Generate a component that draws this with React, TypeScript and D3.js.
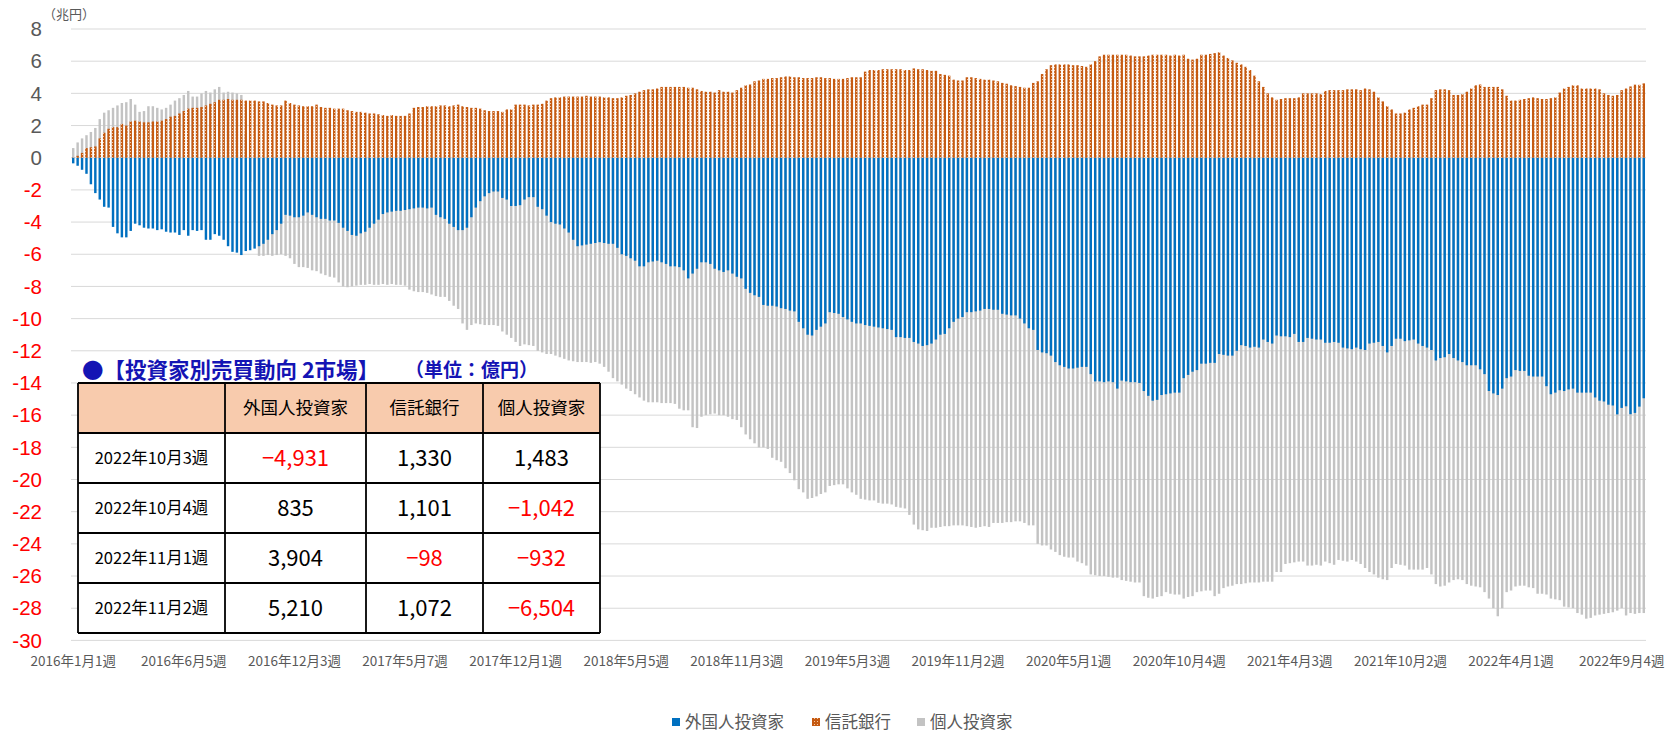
import React from "react";
import * as d3 from "d3";

const tickLabels = ["2016年1月1週","2016年6月5週","2016年12月3週","2017年5月7週","2017年12月1週","2018年5月5週","2018年11月3週","2019年5月3週","2019年11月2週","2020年5月1週","2020年10月4週","2021年4月3週","2021年10月2週","2022年4月1週","2022年9月4週"];
const tickEvery = 25;
const yTicks = [8,6,4,2,0,-2,-4,-6,-8,-10,-12,-14,-16,-18,-20,-22,-24,-26,-28,-30];
const seriesNames = ["外国人投資家","信託銀行","個人投資家"];

const foreign = [
-0.35,-0.5,-0.75,-1.0,-1.65,-2.2,-2.6,-3.05,-3.1,-4.3,
-4.7,-4.95,-4.95,-4.55,-4.1,-4.2,-4.35,-4.4,-4.4,-4.5,
-4.45,-4.6,-4.65,-4.65,-4.8,-4.5,-4.85,-4.5,-4.55,-4.5,
-5.1,-5.1,-4.75,-4.85,-5.1,-5.5,-5.85,-5.9,-6.05,-5.8,
-5.75,-5.65,-5.5,-5.35,-5.1,-4.75,-4.5,-4.1,-3.55,-3.6,
-3.7,-3.7,-3.6,-3.4,-3.55,-3.7,-3.8,-3.8,-3.9,-3.9,
-4.05,-4.35,-4.55,-4.8,-4.85,-4.7,-4.6,-4.35,-4.1,-3.85,
-3.5,-3.4,-3.35,-3.3,-3.3,-3.25,-3.2,-3.15,-3.1,-3.1,
-3.15,-3.1,-3.55,-3.7,-3.8,-4.1,-4.3,-4.5,-4.5,-4.35,
-3.7,-3.1,-2.7,-2.4,-2.2,-2.1,-2.1,-2.5,-2.6,-3.0,
-3.0,-2.95,-2.6,-2.45,-2.45,-3.05,-3.2,-3.6,-4.0,-4.1,
-4.15,-4.4,-4.65,-5.1,-5.5,-5.45,-5.4,-5.35,-5.3,-5.25,
-5.3,-5.35,-5.35,-5.6,-6.0,-6.1,-6.25,-6.4,-6.75,-6.75,
-6.5,-6.45,-6.4,-6.5,-6.6,-6.75,-6.75,-6.8,-7.0,-7.5,
-7.2,-6.9,-6.5,-6.5,-6.6,-6.9,-7.0,-7.1,-7.0,-7.2,
-7.4,-7.5,-8.15,-8.4,-8.55,-8.65,-9.15,-9.2,-9.2,-9.25,
-9.35,-9.4,-9.5,-9.55,-10.2,-10.6,-11.0,-11.05,-10.7,-10.5,
-10.3,-9.6,-9.65,-9.7,-9.9,-10.05,-10.2,-10.3,-10.3,-10.4,
-10.45,-10.5,-10.55,-10.6,-10.65,-10.7,-11.15,-11.15,-11.2,-11.2,
-11.45,-11.55,-11.7,-11.65,-11.55,-11.3,-11.0,-10.95,-10.6,-10.2,
-10.0,-9.9,-9.6,-9.6,-9.55,-9.5,-9.4,-9.4,-9.45,-9.45,
-9.7,-9.75,-9.8,-9.8,-10.0,-10.3,-10.6,-10.7,-11.95,-12.1,
-12.15,-12.3,-12.7,-12.9,-13.0,-13.1,-13.1,-13.05,-13.0,-13.0,
-13.45,-13.9,-13.9,-13.95,-13.9,-13.95,-14.35,-13.85,-13.9,-13.95,
-13.95,-14.0,-14.5,-14.8,-15.1,-15.05,-14.75,-14.7,-14.65,-14.6,
-14.6,-13.7,-13.5,-13.3,-13.2,-12.8,-12.8,-12.75,-12.75,-12.2,
-12.25,-12.3,-12.3,-12.0,-11.65,-11.7,-11.8,-11.75,-11.8,-11.3,
-11.45,-11.55,-11.05,-11.1,-11.1,-11.15,-10.95,-11.45,-11.45,-11.2,
-11.25,-11.3,-11.3,-11.5,-11.5,-11.45,-11.5,-11.8,-11.85,-11.9,
-11.8,-11.9,-11.95,-11.55,-11.5,-11.45,-11.7,-12.1,-11.7,-11.25,
-11.25,-11.4,-11.35,-11.3,-11.55,-11.7,-11.8,-11.95,-12.6,-12.45,
-12.4,-12.2,-12.45,-12.6,-12.7,-12.9,-12.9,-12.9,-13.15,-13.45,
-14.5,-14.65,-14.75,-14.35,-13.7,-13.6,-13.2,-13.25,-13.25,-13.55,
-13.6,-13.6,-13.6,-14.2,-14.7,-14.6,-14.45,-14.5,-14.4,-14.35,
-14.6,-14.6,-14.6,-14.6,-14.9,-15.1,-15.15,-15.35,-15.4,-15.95,
-15.55,-15.45,-15.94,-15.86,-15.47,-14.95
];

const trust = [
0.02,0.12,0.3,0.6,0.65,0.7,1.2,1.55,1.8,1.9,
1.9,2.1,2.0,2.25,2.3,2.25,2.2,2.2,2.25,2.25,
2.3,2.4,2.55,2.6,2.75,2.9,3.05,3.1,3.1,3.15,
3.25,3.35,3.45,3.6,3.6,3.65,3.6,3.6,3.6,3.55,
3.55,3.55,3.5,3.5,3.4,3.3,3.25,3.25,3.55,3.4,
3.3,3.25,3.2,3.2,3.2,3.3,3.15,3.1,3.1,3.05,
3.05,3.05,2.95,2.9,2.85,2.85,2.8,2.75,2.75,2.7,
2.65,2.6,2.65,2.6,2.6,2.6,2.75,3.1,3.15,3.15,
3.2,3.2,3.2,3.25,3.25,3.2,3.25,3.3,3.2,3.15,
3.1,3.1,3.05,2.95,2.9,2.9,2.9,2.85,3.0,3.0,
3.3,3.3,3.3,3.25,3.3,3.3,3.35,3.55,3.7,3.75,
3.75,3.8,3.8,3.8,3.8,3.8,3.85,3.8,3.8,3.8,
3.75,3.75,3.7,3.7,3.75,3.85,3.9,4.0,4.1,4.2,
4.25,4.25,4.3,4.4,4.4,4.4,4.4,4.4,4.4,4.35,
4.35,4.25,4.15,4.1,4.1,4.05,4.2,4.1,4.1,4.05,
4.2,4.35,4.5,4.55,4.75,4.8,4.9,4.9,4.95,4.95,
5.0,5.05,5.05,5.0,5.0,4.95,4.95,4.95,5.0,5.0,
4.95,4.95,4.9,4.9,4.9,4.95,5.0,5.0,5.0,5.35,
5.45,5.45,5.45,5.5,5.5,5.5,5.5,5.5,5.45,5.45,
5.55,5.5,5.5,5.45,5.4,5.4,5.2,5.15,5.1,4.85,
4.8,4.8,5.0,5.0,4.95,4.9,4.85,4.85,4.8,4.75,
4.65,4.6,4.5,4.45,4.4,4.35,4.35,4.65,4.75,5.2,
5.5,5.75,5.8,5.8,5.8,5.8,5.75,5.75,5.7,5.65,
5.8,6.0,6.3,6.4,6.4,6.4,6.4,6.4,6.4,6.35,
6.3,6.3,6.3,6.35,6.4,6.4,6.4,6.4,6.35,6.4,
6.35,6.4,6.15,6.1,6.15,6.4,6.4,6.45,6.5,6.55,
6.35,6.2,6.05,5.9,5.8,5.65,5.45,5.1,4.75,4.4,
4.0,3.75,3.6,3.65,3.7,3.7,3.7,3.75,4.0,4.0,
4.0,4.0,3.95,4.15,4.2,4.2,4.2,4.2,4.25,4.25,
4.25,4.2,4.3,4.25,4.1,3.75,3.5,3.2,3.0,2.75,
2.75,2.8,3.0,3.1,3.2,3.3,3.3,3.7,4.2,4.25,
4.25,4.2,3.9,3.9,3.95,4.1,4.3,4.5,4.55,4.4,
4.4,4.4,4.4,4.25,3.85,3.55,3.55,3.6,3.65,3.7,
3.75,3.7,3.65,3.65,3.7,3.75,4.05,4.3,4.4,4.5,
4.5,4.3,4.3,4.3,4.3,4.25,4.0,3.9,3.85,3.9,
4.2,4.3,4.43,4.54,4.53,4.62
];

const individual = [
0.6,0.95,1.2,1.4,1.6,1.85,2.4,2.8,2.95,3.1,
3.25,3.4,3.45,3.65,3.3,2.85,2.9,3.2,3.2,3.1,
3.0,3.1,3.3,3.55,3.7,3.9,4.15,3.8,3.8,4.0,
4.15,4.05,4.25,4.4,4.05,4.1,4.05,4.0,3.9,1.5,
-1.5,-4.0,-6.1,-6.1,-6.05,-6.1,-6.05,-6.0,-6.1,-6.25,
-6.6,-6.8,-6.8,-6.85,-7.0,-7.05,-7.2,-7.3,-7.4,-7.45,
-7.75,-8.0,-8.05,-8.0,-7.95,-7.9,-7.9,-7.85,-7.9,-7.9,
-7.85,-7.9,-7.85,-7.9,-7.9,-7.95,-8.2,-8.3,-8.35,-8.35,
-8.4,-8.5,-8.6,-8.65,-8.65,-8.9,-9.2,-9.4,-10.3,-10.7,
-10.4,-10.3,-10.35,-10.4,-10.4,-10.4,-10.45,-10.8,-11.0,-11.2,
-11.45,-11.7,-11.6,-11.65,-11.7,-12.0,-12.1,-12.2,-12.2,-12.3,
-12.4,-12.5,-12.6,-12.65,-12.7,-12.7,-12.7,-12.75,-12.7,-12.8,
-13.0,-13.3,-13.7,-13.9,-14.1,-14.35,-14.5,-14.7,-14.9,-15.1,
-15.2,-15.2,-15.2,-15.25,-15.25,-15.25,-15.3,-15.6,-15.7,-15.7,
-16.75,-16.8,-16.1,-16.0,-15.95,-15.9,-16.0,-16.0,-16.1,-16.25,
-16.3,-16.75,-17.2,-17.5,-17.75,-18.0,-18.0,-18.1,-18.65,-18.8,
-18.9,-19.3,-19.6,-20.05,-20.6,-20.8,-21.2,-21.15,-21.05,-20.9,
-20.8,-20.4,-20.35,-20.3,-20.3,-20.55,-20.8,-20.95,-21.2,-21.25,
-21.3,-21.3,-21.45,-21.5,-21.5,-21.55,-21.7,-21.75,-21.8,-22.2,
-22.8,-23.1,-23.15,-23.2,-23.0,-23.0,-22.95,-22.9,-22.9,-22.85,
-22.85,-22.85,-22.9,-22.95,-23.0,-22.95,-22.9,-22.95,-22.7,-22.7,
-22.7,-22.65,-22.65,-22.6,-22.6,-22.7,-22.85,-22.85,-24.0,-24.1,
-24.1,-24.35,-24.5,-24.7,-24.8,-24.85,-24.85,-25.1,-25.2,-25.35,
-25.9,-25.95,-26.0,-26.0,-26.05,-26.1,-26.1,-26.25,-26.3,-26.35,
-26.4,-26.4,-27.25,-27.35,-27.4,-27.3,-27.25,-27.0,-27.1,-27.15,
-27.15,-27.4,-27.3,-27.25,-27.0,-26.95,-26.9,-26.9,-27.25,-27.1,
-26.75,-26.65,-26.6,-26.5,-26.5,-26.45,-26.4,-26.4,-26.4,-26.35,
-26.35,-26.35,-25.75,-25.75,-25.25,-25.2,-25.15,-25.1,-25.1,-25.35,
-25.35,-25.3,-25.35,-25.1,-25.2,-25.3,-25.0,-25.05,-25.1,-25.0,
-25.1,-25.25,-25.5,-25.75,-25.9,-26.1,-26.2,-26.25,-25.5,-25.25,
-25.3,-25.35,-25.6,-25.6,-25.6,-25.6,-25.5,-25.9,-26.5,-26.65,
-26.6,-26.4,-26.25,-26.2,-26.25,-26.5,-26.6,-26.65,-26.7,-27.0,
-27.4,-28.0,-28.5,-28.0,-27.0,-26.9,-26.65,-26.6,-26.6,-26.7,
-26.75,-27.1,-27.1,-27.15,-27.4,-27.45,-27.5,-27.9,-27.95,-28.0,
-28.3,-28.4,-28.65,-28.6,-28.45,-28.4,-28.35,-28.3,-28.25,-28.15,
-28.0,-28.45,-28.3,-28.35,-28.3,-28.3
];

const tableTitle = "●【投資家別売買動向 2市場】";
const tableUnit = "（単位：億円）";
const tableWeeks = ["2022年10月3週","2022年10月4週","2022年11月1週","2022年11月2週"];
const tableForeign = [-4931, 835, 3904, 5210];
const tableTrust = [1330, 1101, -98, 1072];
const tableIndividual = [1483, -1042, -932, -6504];

const W = 1680, H = 734;
const plotL = 71, plotR = 1646, yTop = 29, yBot = 640.4;
const COL_BLUE = "#0070C0", COL_ORANGE = "#C55A11", COL_GRAY = "#C3C3C3";
const TXT = "#595959";
const JP = "'Noto Sans CJK JP', 'Noto Sans', sans-serif";

const fmt = (v: number) => (v < 0 ? "−" : "") + d3.format(",")(Math.abs(v));

export default function App() {
  const n = foreign.length;
  const idx = d3.range(n);
  const x = d3.scaleBand<number>().domain(idx).range([plotL, plotR]).paddingInner(0.45).paddingOuter(0.225);
  const y = d3.scaleLinear().domain([-30, 8]).range([yBot, yTop]);
  const y0 = y(0);
  const bw = x.bandwidth();

  const bars = (data: number[], fill: string, key: string) =>
    data.map((v, i) => {
      const yy = y(v);
      return <rect key={key + i} x={x(i)} y={Math.min(yy, y0)} width={bw} height={Math.abs(yy - y0)} fill={fill} />;
    });

  const tableCols = [78, 225, 366, 483, 600];
  const tableTop = 383, rowH = 50;
  const rows = tableWeeks.map((w, r) => [w, tableForeign[r], tableTrust[r], tableIndividual[r]] as [string, number, number, number]);

  const legendItems = [
    { name: seriesNames[0], fill: COL_BLUE, mx: 672 },
    { name: seriesNames[1], fill: "url(#dotPat)", mx: 812 },
    { name: seriesNames[2], fill: COL_GRAY, mx: 917 },
  ];

  return (
    <div style={{ position: "absolute", left: 0, top: 0 }}>
      <svg width={W} height={H} style={{ display: "block", background: "#fff" }}>
        <defs>
          <pattern id="dotPat" width="3" height="3" patternUnits="userSpaceOnUse">
            <rect width="3" height="3" fill={COL_ORANGE} />
            <rect x="1" y="1" width="1" height="1" fill="#F6C8A6" />
          </pattern>
        </defs>
        {yTicks.map((t) => (
          <line key={"g" + t} x1={plotL} x2={plotR} y1={y(t)} y2={y(t)} stroke="#D9D9D9" strokeWidth={1} />
        ))}
        {yTicks.map((t) => (
          <text key={"yl" + t} x={42} y={y(t)} dy="0.35em" textAnchor="end" fontSize={20.5}
            fontFamily="'Liberation Sans', Arial, sans-serif" fill={t < 0 ? "#FF0000" : TXT}>{t}</text>
        ))}
        <text x={43} y={19} fontSize={13} fontFamily={JP} fill={TXT}>（兆円）</text>
        <g>{bars(individual, COL_GRAY, "p")}</g>
        <g>{bars(foreign, COL_BLUE, "f")}</g>
        <g>{bars(trust, "url(#dotPat)", "t")}</g>
        {tickLabels.map((l, k) => {
          const i = k * tickEvery;
          return (
            <text key={"xl" + k} x={(x(i) as number) + bw / 2} y={661} dy="0.35em" textAnchor="middle"
              fontSize={13.5} fontFamily={JP} fill={TXT}>{l}</text>
          );
        })}
        {legendItems.map((it) => (
          <g key={it.name}>
            <rect x={it.mx} y={718} width={8} height={8} fill={it.fill} />
            <text x={it.mx + 13} y={722} dy="0.35em" fontSize={16.5} fontFamily={JP} fill={TXT}>{it.name}</text>
          </g>
        ))}
        {/* table */}
        <text x={82} y={370} dy="0.35em" fontSize={21.5} fontWeight={600} fontFamily={JP} fill="#1414B4">{tableTitle}</text>
        <text x={405} y={370} dy="0.35em" fontSize={19} fontWeight={600} fontFamily={JP} fill="#1414B4">{tableUnit}</text>
        <rect x={tableCols[0]} y={tableTop} width={tableCols[4] - tableCols[0]} height={rowH * 5} fill="#fff" />
        <rect x={tableCols[0]} y={tableTop} width={tableCols[4] - tableCols[0]} height={rowH} fill="#F8CBAD" />
        {seriesNames.map((s, c) => (
          <text key={"h" + c} x={(tableCols[c + 1] + tableCols[c + 2]) / 2} y={tableTop + rowH / 2} dy="0.35em"
            textAnchor="middle" fontSize={17.5} fontFamily={JP} fill="#000">{s}</text>
        ))}
        {rows.map((row, r) => (
          <g key={"r" + r}>
            <text x={(tableCols[0] + tableCols[1]) / 2} y={tableTop + rowH * (r + 1.5)} dy="0.35em" textAnchor="middle"
              fontSize={16.5} fontFamily={JP} fill="#000">{row[0]}</text>
            {[row[1], row[2], row[3]].map((v, c) => (
              <text key={c} x={(tableCols[c + 1] + tableCols[c + 2]) / 2} y={tableTop + rowH * (r + 1.5)} dy="0.36em"
                textAnchor="middle" fontSize={22} fontFamily={JP} fill={v < 0 ? "#FF0000" : "#000"}>{fmt(v)}</text>
            ))}
          </g>
        ))}
        {d3.range(6).map((r) => (
          <line key={"hl" + r} x1={tableCols[0]} x2={tableCols[4]} y1={tableTop + r * rowH} y2={tableTop + r * rowH} stroke="#000" strokeWidth={1.8} />
        ))}
        {tableCols.map((cx, c) => (
          <line key={"vl" + c} x1={cx} x2={cx} y1={tableTop} y2={tableTop + rowH * 5} stroke="#000" strokeWidth={1.8} />
        ))}
      </svg>
    </div>
  );
}
